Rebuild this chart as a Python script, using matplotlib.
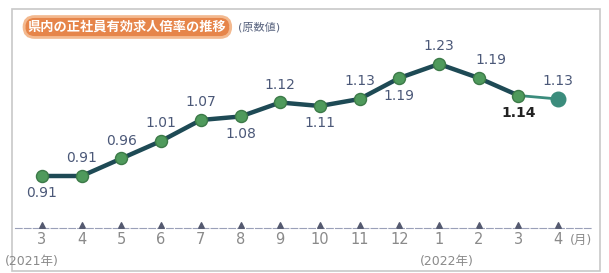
import matplotlib
matplotlib.use("Agg")
import matplotlib.pyplot as plt
from matplotlib.patches import Rectangle

plt.rcParams["font.family"] = ["DejaVu Sans", "Noto Sans CJK JP"]

MONTHS = ["3", "4", "5", "6", "7", "8", "9", "10", "11", "12", "1", "2", "3", "4"]
RATIO = [0.91, 0.91, 0.96, 1.01, 1.07, 1.08, 1.12, 1.11, 1.13, 1.19, 1.23, 1.19, 1.14, 1.13]
# label placement: +1 above the point, -1 below
SIDE = [-1, 1, 1, 1, 1, -1, 1, -1, 1, -1, 1, 1, -1, 1]
TITLE = "県内の正社員有効求人倍率の推移"
UNIT = "(原数値)"

LINE = "#1e4a55"
DOT = "#4f9a5c"
LAST = "#3b8c7c"
LAB = "#4b5878"

fig = plt.figure(figsize=(6.09, 2.73), dpi=100)
ax = fig.add_axes([15 / 609, 45 / 273, 577 / 609, 228 / 273])
x = list(range(len(RATIO)))

ax.plot(x[:-1], RATIO[:-1], color=LINE, lw=3.2, zorder=2)
ax.plot(x[-2:], RATIO[-2:], color=LAST, lw=2, zorder=2)
ax.scatter(x[:-1], RATIO[:-1], s=75, color=DOT, edgecolor="#3c7a48", lw=1, zorder=3)
ax.scatter(x[-1:], RATIO[-1:], s=110, color=LAST, zorder=3)

for i, (v, s) in enumerate(zip(RATIO, SIDE)):
    dx = 0.3 if i == 11 else 0
    col = "#222222" if i == 12 else LAB
    ax.text(i + dx, v + s * 0.05, f"{v:.2f}", ha="center", va="center",
            fontsize=10, color=col, fontweight="bold" if i == 12 else "normal")

ax.set_xlim((15 - 42) / 39.7, (592 - 42) / 39.7)
ax.set_ylim(1.23 - 164 / 350, 1.23 + 64 / 350)
for sp in ["top", "right", "left"]:
    ax.spines[sp].set_visible(False)
ax.spines["bottom"].set_color("#9aa0b8")
ax.spines["bottom"].set_linestyle((0, (6, 2)))
ax.set_yticks([])
ax.set_xticks(x)
ax.set_xticklabels(MONTHS, fontsize=10.5, color="#8a8a8a")
ax.tick_params(axis="x", length=0, pad=3)
ax.scatter(x, [ax.get_ylim()[0] + 0.008] * len(x), marker="^", s=16, color="#555a70",
           clip_on=False, zorder=4)

fig.text(570 / 609, 1 - 240 / 273, "(月)", fontsize=9, color="#8a8a8a",
         ha="left", va="center")
fig.text(5 / 609, 1 - 262 / 273, "(2021年)", fontsize=9, color="#8a8a8a",
         ha="left", va="center")
fig.text(420 / 609, 1 - 262 / 273, "(2022年)", fontsize=9, color="#8a8a8a",
         ha="left", va="center")

fig.text(28 / 609, 1 - 27 / 273, TITLE, fontsize=9.5, color="white",
         fontweight="bold", ha="left", va="center",
         bbox=dict(boxstyle="round,pad=0.3,rounding_size=0.8", fc="#e6854a",
                   ec="#f3b98f", lw=2))
fig.text(238 / 609, 1 - 27 / 273, UNIT, fontsize=8, color="#5a6580",
         ha="left", va="center")

fig.patches.append(Rectangle((12 / 609, 2 / 273), 588 / 609, 262 / 273,
                             transform=fig.transFigure, fill=False,
                             ec="#c8c8c8", lw=1.2))

fig.savefig("out.png", dpi=100)
